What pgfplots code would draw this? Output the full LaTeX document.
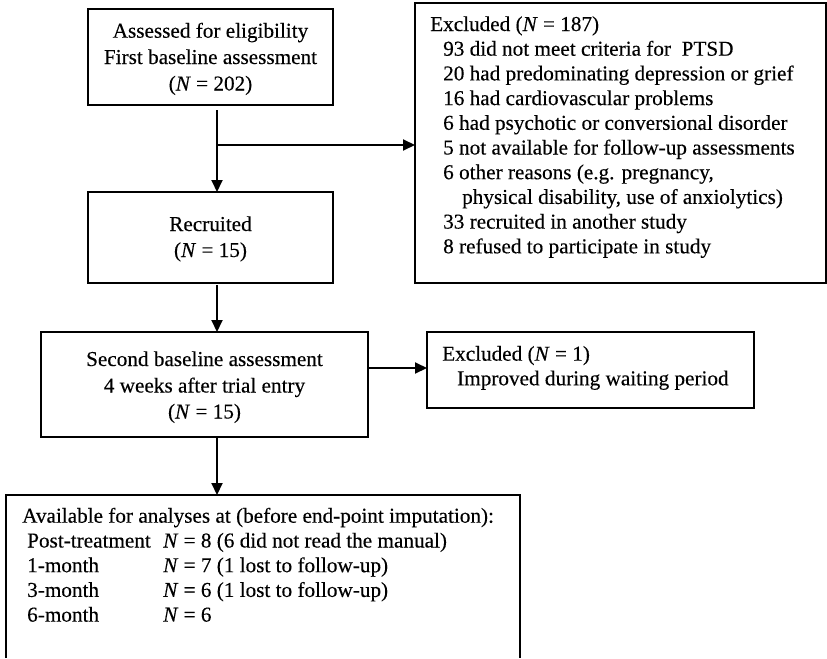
\documentclass[border=0pt]{standalone}
\usepackage{fontspec}
\setmainfont{Liberation Serif}[FakeBold=0.3]
\usepackage{pgfplots}
\pgfplotsset{compat=1.18}
\usetikzlibrary{arrows.meta}
\begin{document}
\begin{tikzpicture}
\fontsize{21.2}{25}\selectfont
\begin{axis}[width=827pt,height=658pt,scale only axis,
  xmin=0,xmax=827,ymin=0,ymax=658,y dir=reverse,hide axis,clip=false]
\path (axis cs:0,0) rectangle (axis cs:827,658);
% boxes
\draw[line width=1.2pt] (axis cs:88,9) rectangle (axis cs:333,105);
\draw[line width=1.2pt] (axis cs:88,192) rectangle (axis cs:333,283);
\draw[line width=1.2pt] (axis cs:41,332) rectangle (axis cs:368,437);
\draw[line width=1.2pt] (axis cs:415,3) rectangle (axis cs:826,283);
\draw[line width=1.2pt] (axis cs:427,332) rectangle (axis cs:754,408);
\draw[line width=1.2pt] (axis cs:6,658) -- (axis cs:6,495) -- (axis cs:520,495) -- (axis cs:520,658);
% arrows
\tikzset{arr/.style={line width=2pt,-{Triangle[length=12pt,width=11pt]}}}
\draw[arr] (axis cs:217,110) -- (axis cs:217,192);
\draw[arr] (axis cs:216,145) -- (axis cs:415,145);
\draw[arr] (axis cs:217,285) -- (axis cs:217,332);
\draw[arr] (axis cs:217,437) -- (axis cs:217,495);
\draw[arr] (axis cs:368,368) -- (axis cs:427,368);
% box 1
\node[anchor=base,inner sep=0] at (axis cs:210.5,37.7) {Assessed for eligibility};
\node[anchor=base,inner sep=0] at (axis cs:210.5,64) {First baseline assessment};
\node[anchor=base,inner sep=0] at (axis cs:210.5,90.5) {(\textit{N} = 202)};
% box 2
\node[anchor=base,inner sep=0] at (axis cs:210.5,231) {Recruited};
\node[anchor=base,inner sep=0] at (axis cs:210.5,257) {(\textit{N} = 15)};
% box 3
\node[anchor=base,inner sep=0] at (axis cs:204.5,366) {Second baseline assessment};
\node[anchor=base,inner sep=0] at (axis cs:204.5,392.5) {4 weeks after trial entry};
\node[anchor=base,inner sep=0] at (axis cs:204.5,418.5) {(\textit{N} = 15)};
% excluded box
\node[anchor=base west,inner sep=0] at (axis cs:430,31) {Excluded (\textit{N} = 187)};
\node[anchor=base west,inner sep=0] at (axis cs:443,55.7) {93 did not meet criteria for\ \ PTSD};
\node[anchor=base west,inner sep=0] at (axis cs:443,80.4) {20 had predominating depression or grief};
\node[anchor=base west,inner sep=0] at (axis cs:443,105.1) {16 had cardiovascular problems};
\node[anchor=base west,inner sep=0] at (axis cs:443,129.8) {6 had psychotic or conversional disorder};
\node[anchor=base west,inner sep=0] at (axis cs:443,154.5) {5 not available for follow-up assessments};
\node[anchor=base west,inner sep=0] at (axis cs:443,179.2) {6 other reasons (e.g. pregnancy,};
\node[anchor=base west,inner sep=0] at (axis cs:462,203.9) {physical disability, use of anxiolytics)};
\node[anchor=base west,inner sep=0] at (axis cs:443,228.6) {33 recruited in another study};
\node[anchor=base west,inner sep=0] at (axis cs:443,253.3) {8 refused to participate in study};
% excluded 2
\node[anchor=base west,inner sep=0] at (axis cs:442,360.7) {Excluded (\textit{N} = 1)};
\node[anchor=base west,inner sep=0] at (axis cs:457,385.3) {Improved during waiting period};
% bottom box
\node[anchor=base west,inner sep=0] at (axis cs:22,522.7) {Available for analyses at (before end-point imputation):};
\node[anchor=base west,inner sep=0] at (axis cs:27,547.5) {Post-treatment};
\node[anchor=base west,inner sep=0] at (axis cs:163,547.5) {\textit{N} = 8 (6 did not read the manual)};
\node[anchor=base west,inner sep=0] at (axis cs:27,572.2) {1-month};
\node[anchor=base west,inner sep=0] at (axis cs:163,572.2) {\textit{N} = 7 (1 lost to follow-up)};
\node[anchor=base west,inner sep=0] at (axis cs:27,596.9) {3-month};
\node[anchor=base west,inner sep=0] at (axis cs:163,596.9) {\textit{N} = 6 (1 lost to follow-up)};
\node[anchor=base west,inner sep=0] at (axis cs:27,621.6) {6-month};
\node[anchor=base west,inner sep=0] at (axis cs:163,621.6) {\textit{N} = 6};
\end{axis}
\end{tikzpicture}
\end{document}
